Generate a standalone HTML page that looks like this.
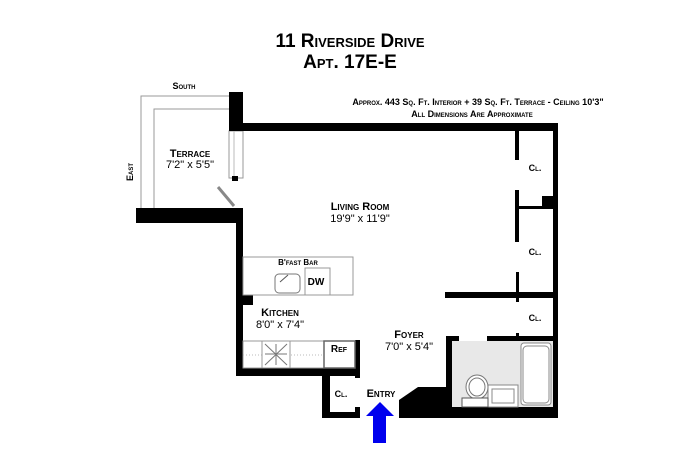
<!DOCTYPE html>
<html><head><style>
html,body{margin:0;padding:0;background:#fff;}
svg{display:block;}
text{font-family:"Liberation Sans",Arial,sans-serif;font-weight:bold;font-variant:small-caps;fill:#000;}
</style></head><body>
<svg width="700" height="466" viewBox="0 0 700 466" xmlns="http://www.w3.org/2000/svg">
<rect width="700" height="466" fill="#fff"/>
<text x="350" y="47" font-size="19" text-anchor="middle">11 Riverside Drive</text>
<text x="350" y="68" font-size="19" text-anchor="middle">Apt. 17E-E</text>
<text x="478" y="105" font-size="9" text-anchor="middle">Approx. 443 Sq. Ft. Interior + 39 Sq. Ft. Terrace - Ceiling 10'3"</text>
<text x="472" y="117" font-size="9" text-anchor="middle">All Dimensions Are Approximate</text>
<text x="184" y="89" font-size="9" text-anchor="middle">South</text>
<text transform="translate(133,172) rotate(-90)" font-size="9" text-anchor="middle">East</text>
<path d="M141,208 V96 H229 M154,208 V109 H229" fill="none" stroke="#999" stroke-width="1"/>
<text x="190" y="157" font-size="11" text-anchor="middle">Terrace</text>
<text x="190" y="168" font-size="11" text-anchor="middle" style="font-weight:normal;font-variant:normal">7'2"  x  5'5"</text>
<rect x="229" y="131" width="14" height="47" fill="#fff" stroke="#999" stroke-width="1"/>
<line x1="234" y1="131" x2="234" y2="178" stroke="#bbb"/>
<rect x="232" y="176" width="6" height="5" fill="#000"/>
<line x1="218" y1="187" x2="234" y2="206" stroke="#888" stroke-width="3"/>
<g fill="#000">
<rect x="229" y="92" width="14" height="39"/>
<rect x="229" y="123" width="329" height="8"/>
<rect x="136" y="208" width="107" height="15"/>
<rect x="236" y="208" width="7" height="168"/>
<rect x="553" y="123" width="5" height="295"/>
<rect x="515" y="131" width="4" height="29"/>
<rect x="515" y="190" width="4" height="52"/>
<rect x="519" y="206" width="34" height="3"/>
<rect x="542" y="196" width="11" height="13"/>
<rect x="516" y="272" width="3" height="30"/>
<rect x="445" y="292" width="108" height="6"/>
<rect x="487" y="336" width="66" height="5"/>
<rect x="446" y="336" width="13" height="5"/>
<rect x="446" y="336" width="6" height="82"/>
<rect x="516" y="333" width="3" height="8"/>
<rect x="399" y="407" width="159" height="11"/>
<polygon points="399,418 399,400 418,387 452,387 452,418"/>
<rect x="236" y="293" width="17" height="12"/>
<rect x="236" y="368" width="121" height="8"/>
<rect x="355" y="340" width="5" height="38"/>
<rect x="322" y="368" width="8" height="50"/>
<rect x="322" y="412" width="38" height="6"/>
<rect x="355" y="407" width="5" height="11"/>
</g>
<rect x="452" y="341" width="101" height="66" fill="#e8e8e8"/>
<rect x="521" y="343" width="30" height="62" rx="3" fill="#fff" stroke="#888"/>
<rect x="523" y="346" width="26" height="57" rx="4" fill="none" stroke="#888"/>
<rect x="488" y="385" width="30" height="22" fill="#fff" stroke="#888"/>
<rect x="492" y="389" width="22" height="14" fill="none" stroke="#888"/>
<ellipse cx="477" cy="387" rx="11" ry="12" fill="#fff" stroke="#777"/>
<ellipse cx="477" cy="387" rx="8" ry="9" fill="none" stroke="#777"/>
<rect x="462" y="398" width="26" height="9" fill="#fff" stroke="#555"/>
<rect x="243" y="257" width="110" height="38" fill="#fff" stroke="#999"/>
<rect x="305" y="268" width="25" height="27" fill="#fff" stroke="#999"/>
<rect x="275" y="274" width="25" height="19" rx="4" fill="none" stroke="#777"/>
<line x1="280" y1="282" x2="288" y2="275" stroke="#555"/>
<text x="298" y="265" font-size="8" text-anchor="middle">B'fast Bar</text>
<text x="316" y="285" font-size="10" text-anchor="middle">DW</text>
<rect x="243" y="341" width="112" height="27" fill="#fff" stroke="#999"/>
<line x1="243" y1="355" x2="355" y2="355" stroke="#bbb" stroke-dasharray="1,2"/>
<rect x="262" y="341" width="28" height="27" fill="#fff" stroke="#999"/>
<path d="M265,344 L287,365 M287,344 L265,365 M276,344 V365 M265,354 H287" stroke="#777" fill="none"/>
<rect x="324" y="341" width="31" height="27" fill="#fff" stroke="#666" stroke-width="1.5"/>
<text x="339" y="352" font-size="10" text-anchor="middle">Ref</text>
<text x="360" y="210" font-size="11" text-anchor="middle">Living Room</text>
<text x="360" y="222" font-size="11" text-anchor="middle" style="font-weight:normal;font-variant:normal">19'9"  x  11'9"</text>
<text x="280" y="316" font-size="11" text-anchor="middle">Kitchen</text>
<text x="280" y="328" font-size="11" text-anchor="middle" style="font-weight:normal;font-variant:normal">8'0"  x  7'4"</text>
<text x="409" y="338" font-size="11" text-anchor="middle">Foyer</text>
<text x="409" y="350" font-size="11" text-anchor="middle" style="font-weight:normal;font-variant:normal">7'0"  x  5'4"</text>
<text x="535" y="171" font-size="9" text-anchor="middle">Cl.</text>
<text x="535" y="255" font-size="9" text-anchor="middle">Cl.</text>
<text x="535" y="321" font-size="9" text-anchor="middle">Cl.</text>
<text x="341" y="397" font-size="9" text-anchor="middle">Cl.</text>
<text x="381" y="397" font-size="11" text-anchor="middle">Entry</text>
<polygon points="380,402 394,416 386,416 386,443 373,443 373,416 366,416" fill="#0000ee"/>
</svg>
</body></html>
